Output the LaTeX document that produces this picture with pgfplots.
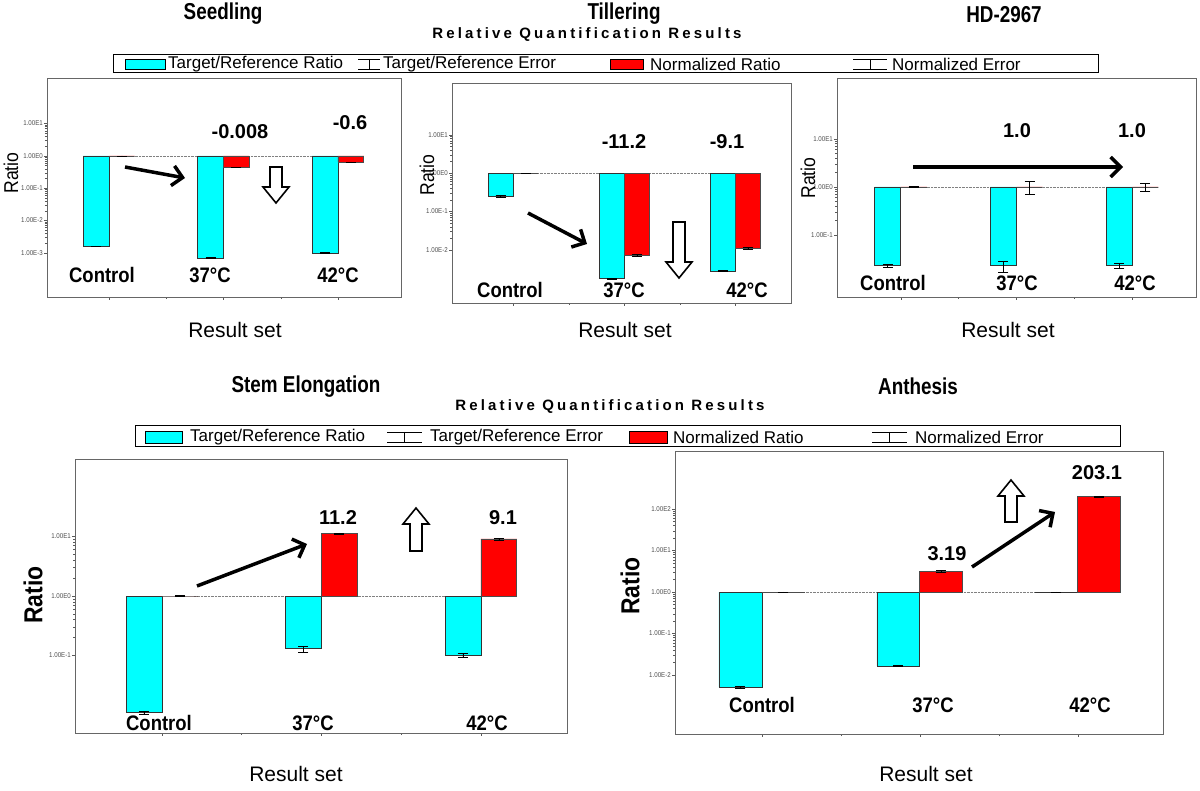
\documentclass[border=0pt]{standalone}
\usepackage{fontspec}
\setmainfont{Liberation Sans}
\newfontfamily\condfont[FakeStretch=0.88]{Liberation Sans}
\newfontfamily\narrowfont[FakeStretch=0.82]{Liberation Sans}
\usepackage{pgfplots}
\pgfplotsset{compat=1.18}
\usetikzlibrary{arrows.meta}
\definecolor{trcyan}{RGB}{0,255,255}
\definecolor{nred}{RGB}{255,0,0}

\pgfplotsset{
  qpcr/.style={
    scale only axis, anchor=north west,
    ybar=0pt, bar width=0.225,
    axis line style={gray!80!black, line width=0.8pt},
    xtick={0,1,2}, xticklabels={}, minor x tick num=1,
    xtick pos=bottom, ytick pos=left, tick align=outside,
    major tick length=3pt, minor tick length=2pt,
    tick style={gray!70!black, line width=0.4pt},
    yticklabel style={font=\condfont\fontsize{7}{7}\selectfont, text=gray!60!black, inner sep=1pt},
    clip=false,
  },
  errs/.style={
    error bars/.cd, y dir=both, y explicit,
    error bar style={black, line width=0.5pt},
    error mark options={rotate=90, black, mark size=5pt, line width=0.5pt}},
  trbar/.style={fill=trcyan, draw=black!80, line width=0.6pt, errs},
  nrbar/.style={fill=nred, draw=black!70, line width=0.6pt, errs},
}
\tikzset{bigarrow/.style={line width=3.5pt, -{Straight Barb[length=10pt, width=20pt]}}}
\newcommand\hollowarrow[3]{%
  \pgfmathsetmacro\hb{#3 - 16*sign(#3-#2)}%
  \draw[line width=1.6pt, fill=white, line join=miter]
    ({#1-6},#2) -- ({#1+6},#2) -- ({#1+6},\hb) -- ({#1+13},\hb) -- (#1,#3)
    -- ({#1-13},\hb) -- ({#1-6},\hb) -- cycle;}
\newcommand\errsym[3]{% x0 x1 y
  \draw[line width=0.7pt] (#1,{#3-5}) -- (#2,{#3-5});
  \draw[line width=0.7pt] (#1,{#3+5}) -- (#2,{#3+5});
  \draw[line width=0.7pt] ({(#1+#2)/2},{#3-5}) -- ({(#1+#2)/2},{#3+5});}

\begin{document}
\begin{tikzpicture}
\useasboundingbox (0pt,0pt) rectangle (1200pt,-791pt);

% ---------- Seedling ----------
\begin{axis}[ymode=log, qpcr, at={(47pt,-78pt)}, width=354pt, height=219pt,
  xmin=-0.54, xmax=2.55, ymin=4.3e-5, ymax=257,
  ytick={1e-3,1e-2,1e-1,1,10},
  yticklabels={1.00E-3,1.00E-2,1.00E-1,1.00E0,1.00E1}]
\draw[densely dotted, gray] (axis cs:0.2,1) -- (axis cs:2,1);
\addplot[trbar] table[x=x,y=y,y error=e] {
x y e
0 1.6e-3 5e-5
1 6.9e-4 2e-5
2 1.0e-3 3e-5
};
\addplot[nrbar] table[x=x,y=y,y error=e] {
x y e
0 1 0.005
1 0.45 0.005
2 0.65 0.005
};
\end{axis}

% ---------- Tillering ----------
\begin{axis}[ymode=log, qpcr, at={(452pt,-83pt)}, width=339pt, height=220pt,
  xmin=-0.55, xmax=2.5, ymin=4.1e-4, ymax=224,
  ytick={1e-2,1e-1,1,10},
  yticklabels={1.00E-2,1.00E-1,1.00E0,1.00E1}]
\draw[densely dotted, gray] (axis cs:0.2,1) -- (axis cs:2,1);
\addplot[trbar] table[x=x,y=y,y error=e] {
x y e
0 0.25 0.02
1 1.8e-3 5e-5
2 2.8e-3 8e-5
};
\addplot[nrbar] table[x=x,y=y,y error=e] {
x y e
0 1 0.005
1 7.2e-3 4e-4
2 0.011 6e-4
};
\end{axis}

% ---------- HD-2967 ----------
\begin{axis}[ymode=log, qpcr, at={(837pt,-78pt)}, width=359pt, height=219pt,
  xmin=-0.55, xmax=2.55, ymin=5.1e-3, ymax=186,
  ytick={1e-1,1,10},
  yticklabels={1.00E-1,1.00E0,1.00E1}]
\draw[densely dotted, gray] (axis cs:0.2,1) -- (axis cs:2,1);
\addplot[trbar] table[x=x,y=y,y error=e] {
x y e
0 0.023 0.002
1 0.023 0.006
2 0.023 0.003
};
\addplot[nrbar] table[x=x,y=y,y error=e] {
x y e
0 1 0.01
1 1 0.3
2 1 0.2
};
\end{axis}

% ---------- Stem Elongation ----------
\begin{axis}[ymode=log, qpcr, at={(75pt,-459pt)}, width=492pt, height=274pt,
  xmin=-0.545, xmax=2.54, ymin=5e-3, ymax=200,
  ytick={1e-1,1,10},
  yticklabels={1.00E-1,1.00E0,1.00E1}]
\draw[densely dotted, gray] (axis cs:0.2,1) -- (axis cs:2,1);
\addplot[trbar] table[x=x,y=y,y error=e] {
x y e
0 0.011 0.0008
1 0.13 0.015
2 0.10 0.008
};
\addplot[nrbar] table[x=x,y=y,y error=e] {
x y e
0 1 0.01
1 11.2 0.3
2 9.1 0.3
};
\end{axis}

% ---------- Anthesis ----------
\begin{axis}[ymode=log, qpcr, at={(675pt,-451pt)}, width=488pt, height=283pt,
  xmin=-0.55, xmax=2.54, ymin=3.8e-4, ymax=2512, bar width=0.272,
  ytick={1e-2,1e-1,1,10,100},
  yticklabels={1.00E-2,1.00E-1,1.00E0,1.00E1,1.00E2}]
\draw[densely dotted, gray] (axis cs:0.25,1) -- (axis cs:2,1);
\addplot[trbar] table[x=x,y=y,y error=e] {
x y e
0 0.0051 0.0003
1 0.0166 0.0005
2 1 0.005
};
\addplot[nrbar] table[x=x,y=y,y error=e] {
x y e
0 1 0.005
1 3.19 0.1
2 203.1 5
};
\end{axis}

\begin{scope}[x=1pt, y=-1pt]
% titles
\begin{scope}[font=\narrowfont\bfseries\fontsize{23}{26}\selectfont]
\node at (223,14) {Seedling};
\node at (624,14) {Tillering};
\node at (1004,15) {HD-2967};
\node at (306,387) {Stem Elongation};
\node at (918,386) {Anthesis};
\end{scope}
\begin{scope}[font=\bfseries\fontsize{15}{17}\selectfont\addfontfeature{LetterSpace=21}]
\node at (587,35) {Relative Quantification Results};
\node at (610,407) {Relative Quantification Results};
\end{scope}

% legends
\begin{scope}[font=\fontsize{17}{19}\selectfont]
\draw[line width=1pt] (113,55) rectangle (1098,73);
\draw[fill=trcyan, line width=0.8pt] (125,59) rectangle (165,69);
\node[anchor=west, inner sep=0pt] at (168,64) {Target/Reference Ratio};
\errsym{358}{380}{64}
\node[anchor=west, inner sep=0pt] at (383,64) {Target/Reference Error};
\draw[fill=nred, line width=0.8pt] (610,59) rectangle (643,69);
\node[anchor=west, inner sep=0pt] at (650,64) {Normalized Ratio};
\errsym{853}{887}{64}
\node[anchor=west, inner sep=0pt] at (892,64) {Normalized Error};

\draw[line width=1pt] (135,426) rectangle (1120,447);
\draw[fill=trcyan, line width=0.8pt] (145,431) rectangle (182,443);
\node[anchor=west, inner sep=0pt] at (190,437) {Target/Reference Ratio};
\errsym{387}{422}{437}
\node[anchor=west, inner sep=0pt] at (430,437) {Target/Reference Error};
\draw[fill=nred, line width=0.8pt] (629,431) rectangle (667,443);
\node[anchor=west, inner sep=0pt] at (673,437) {Normalized Ratio};
\errsym{872}{907}{437}
\node[anchor=west, inner sep=0pt] at (915,437) {Normalized Error};
\end{scope}

% axis titles
\begin{scope}[font=\condfont\fontsize{20}{22}\selectfont]
\node[rotate=90] at (11,173) {Ratio};
\node[rotate=90] at (427,175) {Ratio};
\node[rotate=90] at (808,178) {Ratio};
\end{scope}
\begin{scope}[font=\condfont\bfseries\fontsize{26}{28}\selectfont]
\node[rotate=90] at (33,595) {Ratio};
\node[rotate=90] at (630,586) {Ratio};
\end{scope}
\begin{scope}[font=\fontsize{21}{23}\selectfont]
\node at (235,330) {Result set};
\node at (625,330) {Result set};
\node at (1008,330) {Result set};
\node at (296,774) {Result set};
\node at (926,774) {Result set};
\end{scope}

% group labels
\begin{scope}[font=\condfont\bfseries\fontsize{21}{23}\selectfont]
\node at (102,275) {Control}; \node at (210,275) {37°C}; \node at (338,275) {42°C};
\node at (510,290) {Control}; \node at (624,290) {37°C}; \node at (747,290) {42°C};
\node at (893,283) {Control}; \node at (1017,283) {37°C}; \node at (1135,283) {42°C};
\node at (159,723) {Control}; \node at (313,723) {37°C}; \node at (487,723) {42°C};
\node at (762,705) {Control}; \node at (933,705) {37°C}; \node at (1090,705) {42°C};
\end{scope}

% value labels
\begin{scope}[font=\bfseries\fontsize{20}{22}\selectfont]
\node at (240,132) {-0.008}; \node at (350,123) {-0.6};
\node at (624,142) {-11.2}; \node at (727,142) {-9.1};
\node at (1017,131) {1.0}; \node at (1132,131) {1.0};
\node at (338,518) {11.2}; \node at (503,518) {9.1};
\node at (947,554) {3.19}; \node at (1097,473) {203.1};
\end{scope}

% arrows
\draw[bigarrow] (125,167) -- (185,178);
\draw[bigarrow] (528,213) -- (587,244);
\draw[bigarrow] (913,167) -- (1123,167);
\draw[bigarrow] (197,586) -- (307,544);
\draw[bigarrow] (972,567) -- (1055,512);
\hollowarrow{276}{167}{203}
\hollowarrow{679}{222}{278}
\hollowarrow{416}{551}{508}
\hollowarrow{1011}{522}{480}
\end{scope}
\end{tikzpicture}
\end{document}
